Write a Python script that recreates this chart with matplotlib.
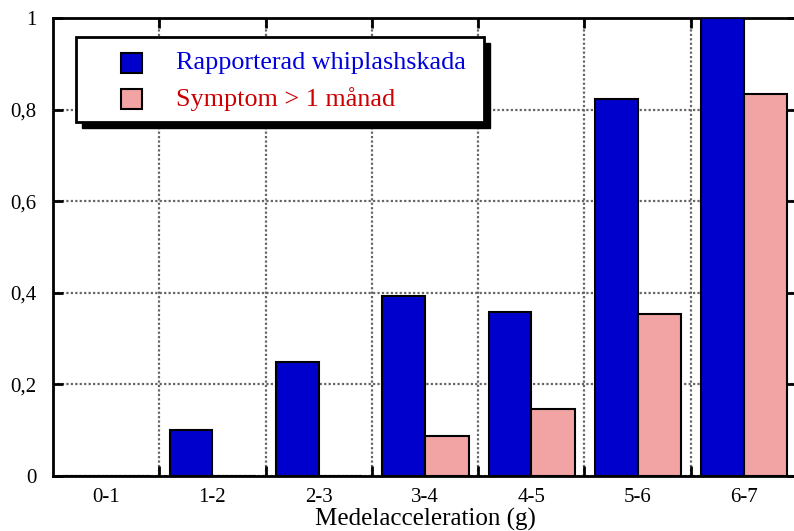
from matplotlib import pyplot as plt
from matplotlib.patches import Rectangle
from matplotlib.ticker import FuncFormatter, FixedLocator
import numpy as np

categories = ["0-1", "1-2", "2-3", "3-4", "4-5", "5-6", "6-7"]
rapporterad = [0.0, 0.10, 0.249, 0.393, 0.358, 0.823, 1.0]
symptom = [0.0, 0.0, 0.0, 0.087, 0.146, 0.354, 0.834]
yticks = [0, 0.2, 0.4, 0.6, 0.8, 1.0]

blue = "#0000cc"
pink = "#f2a4a4"

plt.rcParams['font.family'] = ['Liberation Serif', 'DejaVu Serif']

W, H = 794, 531
ax_l, ax_r, ax_t, ax_b = 53, 797, 18, 476

fig = plt.figure(figsize=(W / 100, H / 100), dpi=100)
ax = fig.add_axes([ax_l / W, 1 - ax_b / H, (ax_r - ax_l) / W, (ax_b - ax_t) / H])

x = np.arange(len(categories))
ax.bar(x, rapporterad, width=-0.4, align='edge', color=blue,
       edgecolor='black', linewidth=1.5, zorder=3)
ax.bar(x, symptom, width=0.41, align='edge', color=pink,
       edgecolor='black', linewidth=1.5, zorder=3)

ax.set_xlim(-0.5, len(categories) - 0.5)
ax.set_ylim(0, 1)

# major ticks at category boundaries (grid), labels at centres
ax.xaxis.set_major_locator(FixedLocator(np.arange(0.5, len(categories) - 0.5)))
ax.xaxis.set_major_formatter(FuncFormatter(lambda v, p: ""))
ax.set_xticks(x, categories, minor=True)
ax.tick_params(axis='x', which='minor', length=0, labelsize=15, pad=9)

ax.set_yticks(yticks)
ax.yaxis.set_major_formatter(FuncFormatter(
    lambda v, p: "0" if v == 0 else ("1" if v == 1 else ("%g" % v).replace(".", ","))))
ax.tick_params(axis='y', labelsize=15, pad=12)
ax.tick_params(which='major', direction='in', length=7, width=2,
               top=True, right=True)

ax.grid(True, linestyle=(0, (1, 1)), color='#666666', linewidth=1.6, zorder=0)
for s in ax.spines.values():
    s.set_linewidth(2)

ax.set_xlabel("Medelacceleration (g)", fontsize=18, labelpad=0)


def px(xp, yp):
    return ((xp - ax_l) / (ax_r - ax_l), (ax_b - yp) / (ax_b - ax_t))


# legend drawn by hand: box with a solid shadow
lx0, ly0 = px(76, 122)
lx1, ly1 = px(484, 37)
sx, sy = px(82, 128)
ax.add_patch(Rectangle((sx, sy), lx1 - lx0, ly1 - ly0, transform=ax.transAxes,
                       facecolor='black', edgecolor='black', zorder=5, clip_on=False))
ax.add_patch(Rectangle((lx0, ly0), lx1 - lx0, ly1 - ly0, transform=ax.transAxes,
                       facecolor='white', edgecolor='black', linewidth=2, zorder=6))

labels = ["Rapporterad whiplashskada", "Symptom > 1 m\u00e5nad"]
colors = [blue, pink]
textcolors = ["#0000dd", "#cc0000"]
rows = [63, 99]
for lab, c, tc, yr in zip(labels, colors, textcolors, rows):
    hx, hy = px(121, yr + 10)
    hx1, hy1 = px(142, yr - 10)
    ax.add_patch(Rectangle((hx, hy), hx1 - hx, hy1 - hy, transform=ax.transAxes,
                           facecolor=c, edgecolor='black', linewidth=1.5, zorder=7))
    tx, ty = px(176, yr)
    ax.text(tx, ty, lab, transform=ax.transAxes, color=tc, fontsize=18.8,
            va='center', ha='left', zorder=7)

plt.savefig("out.png", dpi=100)
